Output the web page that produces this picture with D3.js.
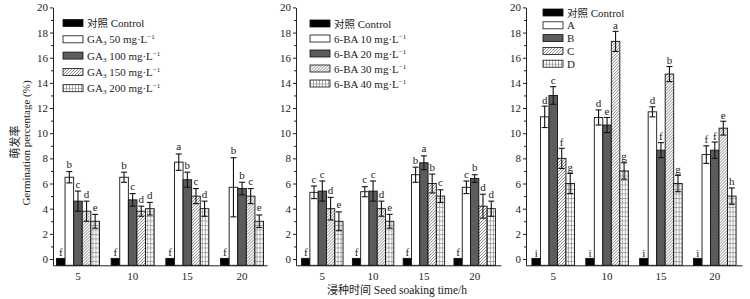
<!DOCTYPE html>
<html>
<head>
<meta charset="utf-8">
<script src="https://cdn.jsdelivr.net/npm/d3@7"></script>
<style>
    body { margin: 0; background: #fff; }
    svg { display: block; }
    text { font-family: "Liberation Serif", "Times New Roman", serif; fill: #222; }
    .cjk { font-family: "Noto Sans CJK SC", sans-serif; }
</style>
</head>
<body>
<div id="chart"></div>
<script>
// data
const times = [5, 10, 15, 20];
const seriesKeys = ['ctrl', 's1', 's2', 's3', 's4'];

// GA3 panel (per soaking time: control, 50, 100, 150, 200 mg/L)
const gaMeans   = [[0, 6.5, 4.6, 3.8, 3.0], [0, 6.5, 4.7, 3.8, 4.0], [0, 7.7, 6.3, 5.0, 4.0], [0, 5.7, 5.6, 5.0, 3.0]];
const gaErrors  = [[0, 0.45, 0.8, 0.8, 0.55], [0, 0.4, 0.5, 0.4, 0.5], [0, 0.65, 0.6, 0.6, 0.6], [0, 2.35, 0.5, 0.6, 0.5]];
const gaLetters = [['f', 'b', 'c', 'd', 'e'], ['f', 'b', 'c', 'd', 'd'], ['f', 'a', 'b', 'c', 'd'], ['f', 'b', 'b', 'c', 'e']];

// 6-BA panel (control, 10, 20, 30, 40 mg/L)
const baMeans   = [[0, 5.3, 5.4, 4.0, 3.0], [0, 5.35, 5.4, 4.0, 3.0], [0, 6.7, 7.65, 6.0, 5.0], [0, 5.7, 6.4, 4.2, 4.0]];
const baErrors  = [[0, 0.5, 0.8, 0.9, 0.75], [0, 0.4, 0.8, 0.6, 0.55], [0, 0.6, 0.55, 0.75, 0.5], [0, 0.5, 0.3, 0.95, 0.6]];
const baLetters = [['f', 'c', 'c', 'd', 'e'], ['f', 'c', 'c', 'd', 'e'], ['f', 'b', 'a', 'b', 'c'], ['f', 'c', 'b', 'd', 'd']];

// combination panel (control, A, B, C, D)
const mixMeans   = [[0, 11.3, 13.0, 8.0, 6.0], [0, 11.25, 10.65, 17.3, 7.0], [0, 11.7, 8.65, 14.7, 6.0], [0, 8.3, 8.65, 10.4, 5.0]];
const mixErrors  = [[0, 0.85, 0.7, 0.8, 0.8], [0, 0.6, 0.6, 0.8, 0.65], [0, 0.4, 0.6, 0.6, 0.65], [0, 0.7, 0.65, 0.55, 0.65]];
const mixLetters = [['i', 'd', 'c', 'f', 'g'], ['i', 'd', 'e', 'a', 'g'], ['i', 'd', 'f', 'b', 'g'], ['i', 'f', 'f', 'e', 'h']];

const yTicks = [0, 2, 4, 6, 8, 10, 12, 14, 16, 18, 20];

// legend labels: [prefix, subscript, middle, superscript]
const gaLegend  = [['GA', '3', ' 50 mg·L', '−1'], ['GA', '3', ' 100 mg·L', '−1'], ['GA', '3', ' 150 mg·L', '−1'], ['GA', '3', ' 200 mg·L', '−1']];
const baLegend  = [['6-BA 10 mg·L', '', '', '−1'], ['6-BA 20 mg·L', '', '', '−1'], ['6-BA 30 mg·L', '', '', '−1'], ['6-BA 40 mg·L', '', '', '−1']];
const mixLegend = [['A', '', '', ''], ['B', '', '', ''], ['C', '', '', ''], ['D', '', '', '']];

const W = 750, H = 299;

let svg = d3.select('#chart').append('svg')
    .attr('width', W)
    .attr('height', H);

// patterns
let defs = svg.append('defs');
let hatch = defs.append('pattern')
    .attr('id', 'hatch')
    .attr('patternUnits', 'userSpaceOnUse')
    .attr('width', 3).attr('height', 3);
hatch.append('rect').attr('width', 3).attr('height', 3).attr('fill', '#fff');
hatch.append('path')
    .attr('d', 'M-1,1 l2,-2 M0,3 l3,-3 M2,4 l2,-2')
    .attr('stroke', '#6a6a6a').attr('stroke-width', 0.8);

let grid = defs.append('pattern')
    .attr('id', 'grid')
    .attr('patternUnits', 'userSpaceOnUse')
    .attr('width', 3).attr('height', 4.5);
grid.append('rect').attr('width', 3).attr('height', 4.5).attr('fill', '#fff');
grid.append('path')
    .attr('d', 'M0.5,0 V4.5 M0,0.5 H3')
    .attr('stroke', '#8a8a8a').attr('stroke-width', 0.7);

const fills = {ctrl: '#000', s1: '#fff', s2: '#5c5c5c', s3: 'url(#hatch)', s4: 'url(#grid)'};

// shared y scale
let y = d3.scaleLinear()
    .domain([-0.5, 20])
    .range([265.3, 7.4]);

const panels = [
    {x0: 53, x1: 267, pi: 0.214, po: 0.063, means: gaMeans, errors: gaErrors, letters: gaLetters,
        legend: gaLegend, lx: 63, ly: 23, lstep: 16.3, gap: 3.5},
    {x0: 296, x1: 501, pi: 0.184, po: 0.11, means: baMeans, errors: baErrors, letters: baLetters,
        legend: baLegend, lx: 310, ly: 23.5, lstep: 15, gap: 3.5},
    {x0: 526, x1: 742, pi: 0.21, po: 0.11, means: mixMeans, errors: mixErrors, letters: mixLetters,
        legend: mixLegend, lx: 543, ly: 12.5, lstep: 12.8, gap: 2.5}
];

panels.forEach(p => drawPanel(p));

function drawPanel(p) {
    let g = svg.append('g');

    let x = d3.scaleBand()
        .domain(times)
        .range([p.x0, p.x1])
        .paddingInner(p.pi)
        .paddingOuter(p.po);

    let xs = d3.scaleBand()
        .domain(seriesKeys)
        .range([0, x.bandwidth()]);

    // y axis, minor ticks first
    g.append('g')
        .attr('transform', `translate(${p.x0},0)`)
        .call(d3.axisLeft(y).tickValues(d3.range(1, 20, 2)).tickSize(2).tickFormat(''))
        .call(a => a.select('.domain').remove());

    g.append('g')
        .attr('transform', `translate(${p.x0},0)`)
        .call(d3.axisLeft(y).tickValues(yTicks).tickSize(3).tickSizeOuter(0).tickPadding(2))
        .call(a => a.selectAll('text').attr('font-size', 11).attr('font-family', 'Liberation Serif').attr('fill', '#222'));

    // x axis
    g.append('g')
        .attr('transform', `translate(0,${y(-0.5)})`)
        .call(d3.axisBottom(x).tickSize(0).tickSizeOuter(0).tickPadding(7))
        .call(a => a.selectAll('text').attr('font-size', 11).attr('font-family', 'Liberation Serif').attr('fill', '#222'));

    g.selectAll('.domain, .tick line').attr('stroke', '#222');

    // bars
    let groups = g.selectAll('.grp')
        .data(times.map((t, i) => ({t: t, i: i})))
        .enter().append('g')
        .attr('class', 'grp')
        .attr('transform', d => `translate(${x(d.t)},0)`);

    let bars = groups.selectAll('.bar')
        .data(d => seriesKeys.map((k, j) => ({
            key: k,
            mean: p.means[d.i][j],
            err: p.errors[d.i][j],
            letter: p.letters[d.i][j]
        })))
        .enter().append('g')
        .attr('class', 'bar');

    bars.append('rect')
        .attr('x', d => xs(d.key))
        .attr('y', d => y(Math.max(d.mean, 0.05)))
        .attr('width', xs.bandwidth())
        .attr('height', d => y(-0.5) - y(Math.max(d.mean, 0.05)))
        .attr('fill', d => fills[d.key])
        .attr('stroke', '#111')
        .attr('stroke-width', 0.9);

    let eb = bars.filter(d => d.err > 0).append('g')
        .attr('stroke', '#111')
        .attr('stroke-width', 1.1);
    eb.append('line')
        .attr('x1', d => xs(d.key) + xs.bandwidth() / 2)
        .attr('x2', d => xs(d.key) + xs.bandwidth() / 2)
        .attr('y1', d => y(d.mean + d.err))
        .attr('y2', d => y(d.mean - d.err));
    [1, -1].forEach(s => {
        eb.append('line')
            .attr('x1', d => xs(d.key) + xs.bandwidth() / 2 - 3)
            .attr('x2', d => xs(d.key) + xs.bandwidth() / 2 + 3)
            .attr('y1', d => y(d.mean + s * d.err))
            .attr('y2', d => y(d.mean + s * d.err));
    });

    bars.append('text')
        .attr('x', d => xs(d.key) + xs.bandwidth() / 2)
        .attr('y', d => y(d.mean + d.err) - p.gap)
        .attr('text-anchor', 'middle')
        .attr('font-size', 11)
        .text(d => d.letter);

    // legend
    let leg = g.append('g')
        .attr('transform', `translate(${p.lx},${p.ly})`);

    let row0 = leg.append('g');
    row0.append('rect')
        .attr('x', 0).attr('y', -3.5)
        .attr('width', 20).attr('height', 7)
        .attr('fill', fills.ctrl).attr('stroke', '#111').attr('stroke-width', 0.8);
    let t0 = row0.append('text')
        .attr('x', 24).attr('y', 4)
        .attr('font-size', 11);
    t0.append('tspan').attr('class', 'cjk').attr('font-size', 10.5).text('对照');
    t0.append('tspan').text(' Control');

    p.legend.forEach((lab, i) => {
        let row = leg.append('g')
            .attr('transform', `translate(0,${(i + 1) * p.lstep})`);
        row.append('rect')
            .attr('x', 0).attr('y', -3.5)
            .attr('width', 20).attr('height', 7)
            .attr('fill', fills[seriesKeys[i + 1]])
            .attr('stroke', '#111').attr('stroke-width', 0.8);
        let t = row.append('text')
            .attr('x', 24).attr('y', 4)
            .attr('font-size', 11);
        t.append('tspan').text(lab[0]);
        if (lab[1]) t.append('tspan').attr('font-size', 7).attr('dy', 2).text(lab[1]);
        if (lab[2]) t.append('tspan').attr('dy', lab[1] ? -2 : 0).text(lab[2]);
        if (lab[3]) t.append('tspan').attr('font-size', 7).attr('dy', -4).text(lab[3]);
    });
}

// axis titles
svg.append('text')
    .attr('x', 397)
    .attr('y', 294)
    .attr('text-anchor', 'middle')
    .attr('font-size', 11.5)
    .call(t => {
        t.append('tspan').attr('class', 'cjk').attr('font-size', 11).text('浸种时间');
        t.append('tspan').text(' Seed soaking time/h');
    });

svg.append('text')
    .attr('class', 'cjk')
    .attr('transform', 'translate(19,142) rotate(-90)')
    .attr('text-anchor', 'middle')
    .attr('font-size', 11)
    .text('萌发率');

svg.append('text')
    .attr('transform', 'translate(29.5,143) rotate(-90)')
    .attr('text-anchor', 'middle')
    .attr('font-size', 11)
    .text('Germination percentage (%)');
</script>
</body>
</html>
